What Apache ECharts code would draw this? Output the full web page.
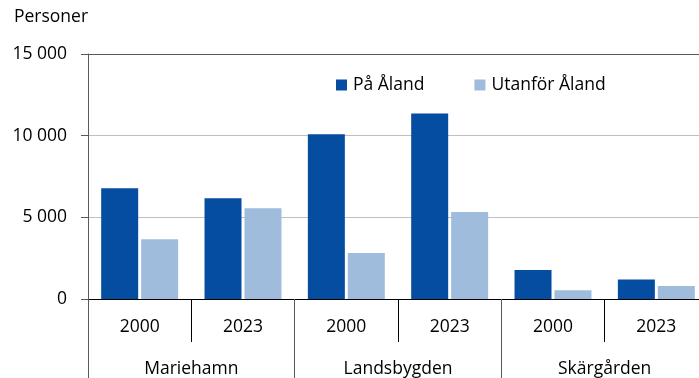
<!DOCTYPE html>
<html>
<head>
<meta charset="utf-8">
<script src="https://cdn.jsdelivr.net/npm/echarts@6/dist/echarts.min.js"></script>
<style>
  html, body { margin: 0; padding: 0; background: #fff; overflow: hidden; }
  body { width: 699px; height: 378px; }
  /* the plot runs a little past the right edge of the page */
  #chart { width: 710px; height: 378px; }
</style>
</head>
<body>
<div id="chart"></div>
<script>
// Residents by area and year, split by where they live
const years = ['2000', '2023', '2000', '2023', '2000', '2023'];
const areas = ['Mariehamn', 'Landsbygden', 'Skärgården'];
const paAland = [6780, 6170, 10080, 11350, 1780, 1200];
const utanforAland = [3660, 5550, 2820, 5330, 530, 800];
const seriesNames = ['På Åland', 'Utanför Åland'];
const yTicks = { min: 0, max: 15000, step: 5000 };

const FONT = '"Open Sans", "Noto Sans", sans-serif';
const FS = 17.5;
const DARK = '#044da0';
const LIGHT = '#a0bcdd';

const fmt = v => String(v).replace(/\B(?=(\d{3})+(?!\d))/g, ' ');

const chart = echarts.init(document.getElementById('chart'), null, { renderer: 'canvas' });
chart.setOption({
  animation: false,
  backgroundColor: '#ffffff',
  textStyle: { fontFamily: FONT },
  title: {
    text: 'Personer',
    left: 14,
    top: 8,
    padding: 0,
    textStyle: { fontFamily: FONT, fontSize: FS, fontWeight: 'normal', color: '#000' }
  },
  legend: {
    data: seriesNames,
    left: 336,
    top: 76,
    padding: 0,
    itemWidth: 11,
    itemHeight: 11,
    itemGap: 50,
    icon: 'rect',
    textStyle: { fontFamily: FONT, fontSize: FS, color: '#000', padding: [0, 0, 0, 1] }
  },
  grid: { left: 88, top: 54, width: 620, bottom: 79, containLabel: false },
  xAxis: [
    {
      type: 'category',
      data: years,
      position: 'bottom',
      boundaryGap: true,
      axisLine: { show: true, lineStyle: { color: '#000', width: 1 } },
      axisTick: { show: true, interval: 0, length: 43, lineStyle: { color: '#000' } },
      axisLabel: { interval: 0, margin: 19, fontFamily: FONT, fontSize: FS, color: '#000', lineHeight: 18 },
      splitLine: { show: false }
    },
    {
      type: 'category',
      data: areas,
      position: 'bottom',
      boundaryGap: true,
      axisLine: { show: false },
      axisTick: { show: true, interval: 0, length: 90, lineStyle: { color: '#595959' } },
      axisLabel: { interval: 0, margin: 61, fontFamily: FONT, fontSize: FS, color: '#000', lineHeight: 18 },
      splitLine: { show: false }
    },
    {
      type: 'category',
      data: years,
      position: 'top',
      axisLine: { show: true, lineStyle: { color: '#595959', width: 1 } },
      axisTick: { show: false },
      axisLabel: { show: false },
      splitLine: { show: false }
    }
  ],
  yAxis: {
    type: 'value',
    min: yTicks.min,
    max: yTicks.max,
    interval: yTicks.step,
    axisLine: { show: true, lineStyle: { color: '#595959', width: 1 } },
    axisTick: { show: true, length: 7, lineStyle: { color: '#595959' } },
    axisLabel: { margin: 21, fontFamily: FONT, fontSize: FS, color: '#000', formatter: fmt },
    splitLine: { show: true, lineStyle: { color: '#bfbfbf', width: 1 } }
  },
  series: [
    {
      name: seriesNames[0],
      type: 'bar',
      xAxisIndex: 0,
      data: paAland,
      barWidth: 37,
      barGap: '8%',
      itemStyle: { color: DARK }
    },
    {
      name: seriesNames[1],
      type: 'bar',
      xAxisIndex: 0,
      data: utanforAland,
      barWidth: 37,
      barGap: '8%',
      itemStyle: { color: LIGHT }
    }
  ]
});
</script>
</body>
</html>
